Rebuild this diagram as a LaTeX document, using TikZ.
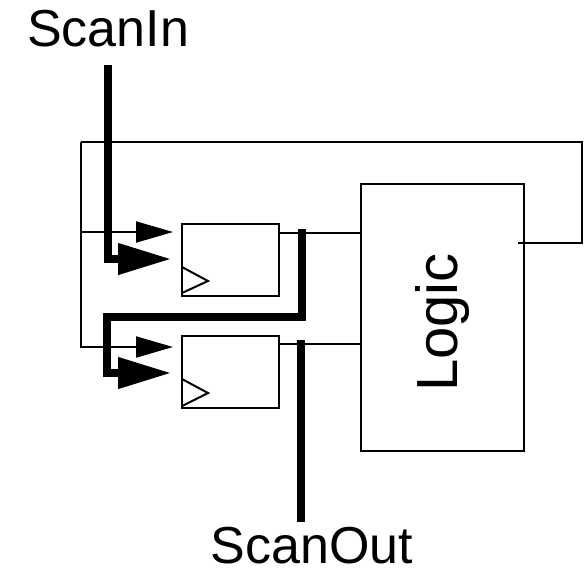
\documentclass[tikz,border=0pt]{standalone}
\usepackage{fontspec}
\setmainfont{Liberation Sans}
\usetikzlibrary{arrows.meta, positioning}
\begin{document}
\begin{tikzpicture}[x=1pt,y=-1pt,
    % gaya untuk kotak
    reg/.style={rectangle, draw, line width=2pt, minimum width=97pt, minimum height=72pt, inner sep=0pt},
    logicbox/.style={rectangle, draw, line width=2pt, minimum width=163pt, minimum height=267pt, inner sep=0pt},
    label/.style={font=\fontsize{52}{52}\selectfont, inner sep=0pt},
    % gaya untuk garis dan panah
    wire/.style={line width=2pt},
    bus/.style={line width=7.5pt},
    thinarrow/.style={-{Triangle[length=37pt,width=21pt]}, line width=2pt},
    thickarrow/.style={-{Triangle[length=53pt,width=30pt]}, line width=7.5pt}
]
\useasboundingbox (0,0) rectangle (585,568);

% Kotak
\node (rega) [reg] at (230.5,260) {};
\node (regb) [reg, below=38pt of rega] {};
\node (logic) [logicbox] at (442.5,317.5) {};
\node (scanin) [label] at (108,29) {ScanIn};
\node (scanout) [label] at (312,546) {ScanOut};
\node (logiclabel) [label, font=\fontsize{58}{58}\selectfont, rotate=90] at (442,322.5) {Logic};

% Segitiga clock
\draw [wire] (182,267) -- (208,281) -- (182,293);
\draw [wire] (182,379) -- (208,393) -- (182,406);

% Titik bantu
\coordinate (scanintop) at (108,65);
\coordinate (tipa) at (173,232);
\coordinate (tipathick) at (171,259);
\coordinate (tipb) at (173,347);
\coordinate (tipbthick) at (171,373);
\coordinate (outa) at (302,229);
\coordinate (outb) at (301,340);
\coordinate (scanoutend) at (301,522);
\coordinate (logicout) at (518,242.7);
\coordinate (fbright) at (582,142);
\coordinate (fbleft) at (81,142);

% Umpan balik dari Logic
\draw [wire] (logicout) -| (fbright) -- (fbleft);
\draw [thinarrow] (fbleft) |- (tipa);
\draw [thinarrow] (fbleft) |- (tipb);

% Keluaran register ke Logic
\draw [wire] (rega.east |- 0,233) -- (logic.west |- 0,233);
\draw [wire] (regb.east |- 0,344) -- (logic.west |- 0,344);

% Rantai scan
\draw [thickarrow] (scanintop) |- (tipathick);
\draw [thickarrow] (outa) |- (107,317) |- (tipbthick);
\draw [bus] (outb) -- (scanoutend);

\end{tikzpicture}
\end{document}
